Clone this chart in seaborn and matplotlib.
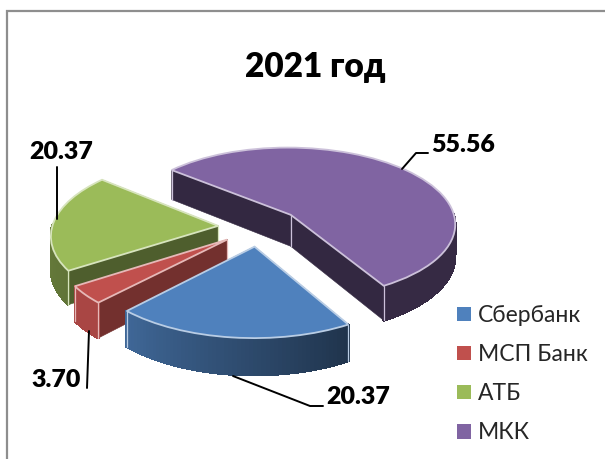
import numpy as np
import matplotlib
matplotlib.use("Agg")
import matplotlib.pyplot as plt
from matplotlib.colors import to_rgb
from matplotlib.patches import Patch
from matplotlib.transforms import Transform
import seaborn as sns

# --- data ---
TITLE = "2021 год"
banks = ["Сбербанк", "МСП Банк", "АТБ", "МКК"]
shares = [20.37, 3.70, 20.37, 55.56]
base_colors = ["#4F81BD", "#C0504D", "#9BBB59", "#8064A2"]

# --- style ---
sns.set_theme(style="white")
plt.rcParams["font.family"] = ["Lato", "Noto Sans", "DejaVu Sans"]
palette = sns.color_palette(base_colors)

# projection of the flat pie onto the tilted picture (pixel units)
CX, CY, R, RK, PERSP, DEPTH = 259.5, 227.0, 166.0, 77.0, 0.108, 32.0


def project(x, y, z=0.0):
    x, y = np.asarray(x, float), np.asarray(y, float)
    s = 1.0 / (1.0 + PERSP * y)
    return CX + R * x * s, CY - RK * y * s + DEPTH * z * s


class Tilt(Transform):
    input_dims = output_dims = 2
    is_affine = False

    def transform_non_affine(self, values):
        values = np.asarray(values, float)
        sx, sy = project(values[:, 0], values[:, 1])
        return np.column_stack([sx, sy])


fig = plt.figure(figsize=(6.05, 4.59), dpi=100, facecolor="white")
ax = fig.add_axes([0, 0, 1, 1])
wedges, _ = ax.pie(shares, colors=palette, startangle=-60, counterclock=False,
                   explode=[0.25] * len(shares), radius=1.0)
ax.set_aspect("auto")
ax.set_xlim(0, 605)
ax.set_ylim(459, 0)
ax.axis("off")

tilt = Tilt()
z_base = {3: 10, 2: 20, 1: 30, 0: 40}
arc_left_factor = [0.80, 0.88, 0.72, 0.42]
arc_right_factor = [0.40, 0.88, 0.62, 0.42]
radial_factor = [0.45, 0.60, 0.50, 0.40]

for i, w in enumerate(wedges):
    zb = z_base[i]
    col = np.array(to_rgb(palette[i]))
    tint = tuple(col + (1 - col) * 0.6)
    cx0, cy0 = w.center
    t1, t2 = np.radians(w.theta1), np.radians(w.theta2)

    # straight inner walls with a light seam at the outer corner
    for t in (t1, t2):
        xe, ye = cx0 + np.cos(t), cy0 + np.sin(t)
        xa, ya = project([cx0, xe], [cy0, ye], 0)
        xb, yb = project([xe, cx0], [ye, cy0], 1)
        ax.fill(np.r_[xa, xb], np.r_[ya, yb], color=tuple(col * radial_factor[i]),
                lw=0.4, zorder=zb)
        ax.plot(np.r_[xa[1], xb[0]], np.r_[ya[1], yb[0]],
                color=tint, lw=0.9, zorder=zb + 1)
    xa, ya = project([cx0], [cy0], 0)
    xb, yb = project([cx0], [cy0], 1)
    ax.plot(np.r_[xa, xb], np.r_[ya, yb], color=tint, lw=0.9, zorder=zb + 1)

    # curved outer wall, front part only, shaded left to right
    th = np.linspace(t1, t2, 60)
    for a, b in zip(th[:-1], th[1:]):
        if np.sin((a + b) / 2) >= 0.02:
            continue
        px = [cx0 + np.cos(a), cx0 + np.cos(b)]
        py = [cy0 + np.sin(a), cy0 + np.sin(b)]
        xa, ya = project(px, py, 0)
        xb, yb = project(px[::-1], py[::-1], 1)
        f = (a - t1) / (t2 - t1)
        if i == 3:
            f = 0.0
        shade = arc_left_factor[i] + (arc_right_factor[i] - arc_left_factor[i]) * f
        c = tuple(col * shade)
        ax.fill(np.r_[xa, xb], np.r_[ya, yb], facecolor=c, edgecolor=c, lw=1.2,
                antialiased=False, zorder=zb + 0.5)

    # top face comes from the pie itself
    w.set_transform(tilt + ax.transData)
    w.set_edgecolor(tint)
    w.set_linewidth(1.3)
    w.set_zorder(zb + 2)

# chart frame (top and left are visible in the crop)
ax.plot([6.5, 6.5, 605], [459, 11, 11], color="#8e8e8e", lw=1.6, zorder=1, solid_joinstyle="miter")

# title
ax.text(315, 67, TITLE, ha="center", va="center", fontsize=24, fontweight="heavy", color="black")

# value labels with leader lines
label_style = dict(ha="center", va="center", fontsize=18, fontweight="heavy", color="black", zorder=60)
leaders = [
    ([233, 310, 323], [376, 406, 406], 358, 397),
    ([87, 89], [388, 331], 56, 380),
    ([57, 57], [167, 219], 61, 152),
    ([402, 416, 428], [169, 153, 153], 463, 144.5),
]
for v, (lx, ly, tx, ty) in zip(shares, leaders):
    ax.plot(lx, ly, color="black", lw=1.4, zorder=55)
    ax.text(tx, ty, f"{v:.2f}", **label_style)

# legend
handles = [Patch(facecolor=c, edgecolor="none") for c in palette]
ax.legend(handles, banks, loc="upper left", bbox_to_anchor=(457, 305), bbox_transform=ax.transData,
          frameon=False, fontsize=16.5, borderpad=0, borderaxespad=0, handlelength=0.6, handleheight=0.6,
          handletextpad=0.3, labelspacing=0.79)

fig.savefig("out.png", dpi=100)
